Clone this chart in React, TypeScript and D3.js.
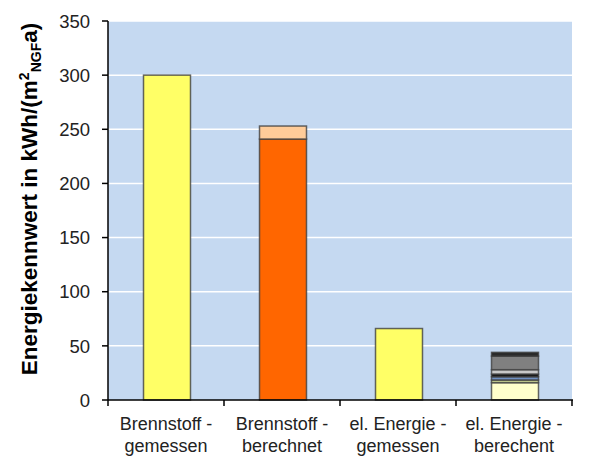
import React from "react";
import * as d3 from "d3";

// ---- data ----
const categoryLines: string[][] = [
  ["Brennstoff -", "gemessen"],
  ["Brennstoff -", "berechnet"],
  ["el. Energie -", "gemessen"],
  ["el. Energie -", "berechent"],
];
const brennstoffGemessen = [300];
const brennstoffBerechnet = [241, 12];
const elEnergieGemessen = [66];
const elEnergieBerechnet = [16, 2.5, 3, 2.5, 4, 12.5, 3.5];
const yTicks = [0, 50, 100, 150, 200, 250, 300, 350];

// ---- styles ----
const colorsBrennstoffGemessen = ["#FFFF66"];
const colorsBrennstoffBerechnet = ["#FF6600", "#FFCC99"];
const colorsElGemessen = ["#FFFF66"];
const colorsElBerechnet = ["#FFFFCC", "#C3CC8F", "#6F8FC0", "#1A1A1A", "#C8C8C8", "#808080", "#2A2A2A"];

const W = 589;
const H = 462;
const M = { left: 108, right: 572, top: 21, bottom: 400 };

export default function App() {
  const x = d3
    .scaleBand<number>()
    .domain(d3.range(categoryLines.length))
    .range([M.left, M.right])
    .paddingInner(0.595)
    .paddingOuter(0.2975);
  const y = d3.scaleLinear().domain([0, 350]).range([M.bottom, M.top]);

  const stacks = [
    { vals: brennstoffGemessen, cols: colorsBrennstoffGemessen },
    { vals: brennstoffBerechnet, cols: colorsBrennstoffBerechnet },
    { vals: elEnergieGemessen, cols: colorsElGemessen },
    { vals: elEnergieBerechnet, cols: colorsElBerechnet },
  ];

  const step = x.step();
  const boundaries = d3.range(categoryLines.length + 1).map((i) => M.left + i * step);

  const font = "'Liberation Sans', Arial, sans-serif";

  return (
    <svg width={W} height={H} style={{ position: "absolute", left: 0, top: 0 }}>
      <rect x={0} y={0} width={W} height={H} fill="#ffffff" />
      <rect
        x={M.left}
        y={M.top}
        width={M.right - M.left}
        height={M.bottom - M.top}
        fill="#C5D9F1"
      />
      {yTicks.filter((t) => t > 0).map((t) => (
        <line
          key={"g" + t}
          x1={M.left}
          x2={M.right}
          y1={y(t)}
          y2={y(t)}
          stroke="#ffffff"
          strokeWidth={1.5}
        />
      ))}
      {stacks.map((s, i) => {
        const cum = d3.cumsum(s.vals);
        return s.vals.map((v, j) => {
          const y1 = y(cum[j]);
          const y0 = y(cum[j] - v);
          return (
            <rect
              key={`b${i}-${j}`}
              x={x(i)! + 1}
              y={y1}
              width={x.bandwidth()}
              height={y0 - y1}
              fill={s.cols[j]}
              stroke="#404040"
              strokeOpacity={0.8}
              strokeWidth={1.5}
            />
          );
        });
      })}
      {/* y axis */}
      <line x1={M.left} x2={M.left} y1={M.top} y2={M.bottom} stroke="#000" strokeWidth={1.5} />
      {yTicks.map((t) => (
        <g key={"t" + t}>
          <line x1={M.left - 6} x2={M.left} y1={y(t)} y2={y(t)} stroke="#000" strokeWidth={1.5} />
          <text
            x={M.left - 18}
            y={y(t)}
            dy="0.36em"
            textAnchor="end"
            fontFamily={font}
            fontSize={18.5}
            fill="#222"
          >
            {t}
          </text>
        </g>
      ))}
      {/* x axis */}
      <line x1={M.left} x2={M.right + 1} y1={M.bottom} y2={M.bottom} stroke="#000" strokeWidth={1.5} />
      {boundaries.map((b, i) => (
        <line key={"xt" + i} x1={b} x2={b} y1={M.bottom} y2={M.bottom + 6} stroke="#000" strokeWidth={1.5} />
      ))}
      {categoryLines.map((lines, i) => (
        <text
          key={"xl" + i}
          x={x(i)! + x.bandwidth() / 2}
          y={430}
          textAnchor="middle"
          fontFamily={font}
          fontSize={18}
          fill="#222"
        >
          {lines.map((l, k) => (
            <tspan key={k} x={x(i)! + x.bandwidth() / 2} dy={k === 0 ? 0 : 22}>
              {l}
            </tspan>
          ))}
        </text>
      ))}
      {/* y label */}
      <text
        transform={`translate(37,199) rotate(-90)`}
        textAnchor="middle"
        fontFamily={font}
        fontSize={22.5}
        fontWeight="bold"
        fill="#000"
      >
        Energiekennwert in kWh/(m
        <tspan fontSize={14} dy={-8}>2</tspan>
        <tspan fontSize={14} dy={12}>NGF</tspan>
        <tspan dy={-4}>a)</tspan>
      </text>
    </svg>
  );
}
